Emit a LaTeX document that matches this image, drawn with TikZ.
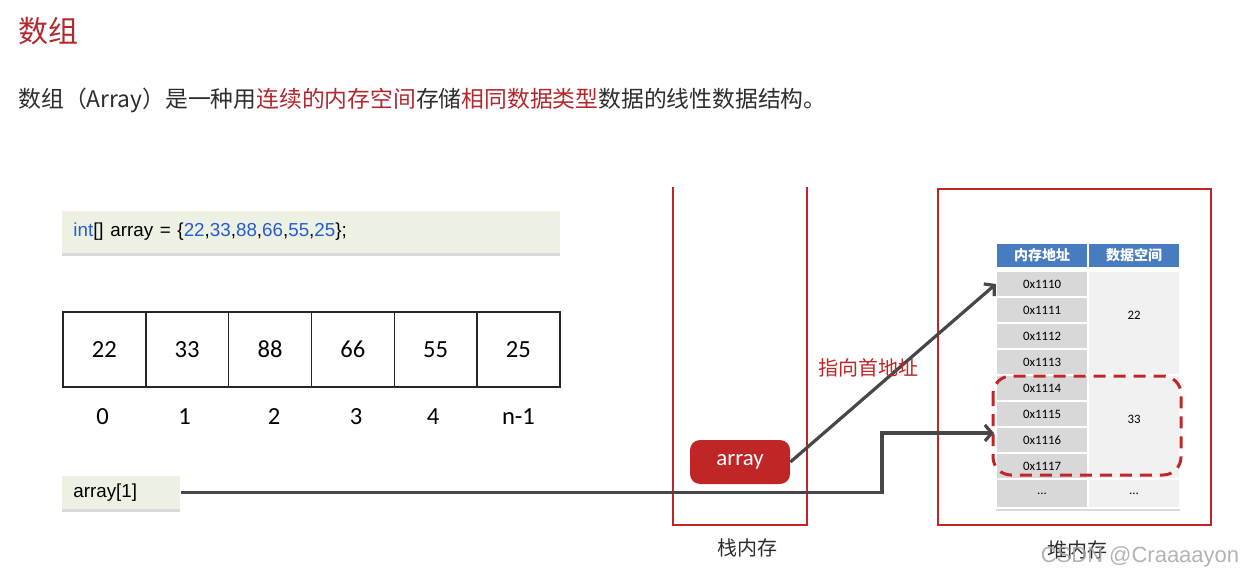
\documentclass[tikz,border=0pt]{standalone}
\usepackage{fontspec}
\setmainfont{Carlito}
\newfontfamily\cjk{Noto Sans CJK SC}
\newfontfamily\codefont{Liberation Sans}
\usepackage{tikz}
\usetikzlibrary{positioning,shadows,arrows.meta}
\definecolor{titlered}{RGB}{178,40,45}
\definecolor{memred}{RGB}{192,38,38}
\definecolor{codebg}{RGB}{236,241,228}
\definecolor{addrgray}{RGB}{216,216,216}
\definecolor{datgray}{RGB}{241,241,241}
\definecolor{hdrblue}{RGB}{72,124,192}
\definecolor{codeblue}{RGB}{38,92,205}
\definecolor{textdark}{RGB}{45,45,45}
\newcommand{\fsz}[1]{\fontsize{#1}{#1}\selectfont}

\begin{document}
\begin{tikzpicture}[x=0.5pt,y=-0.5pt,
	>={Straight Barb[length=3.5pt,width=8pt]},
	codebox/.style={fill=codebg,inner sep=0pt,align=left,
		drop shadow={shadow xshift=0pt,shadow yshift=-1.5pt,opacity=0.3}},
	cellbox/.style={draw=black!85,line width=0.7pt,minimum width=41.4pt,minimum height=37.5pt,inner sep=0pt,font=\fsz{12.3}},
	addr/.style={fill=addrgray,draw=white,line width=0.6pt,minimum width=45.5pt,minimum height=13pt,inner sep=0pt,font=\fsz{6.4}},
	dat/.style={fill=datgray,draw=white,line width=0.6pt,minimum width=46pt,inner sep=0pt},
	hdr/.style={fill=hdrblue,draw=white,line width=0.6pt,minimum width=45.5pt,minimum height=12.5pt,inner sep=0pt,text=white,font=\cjk\bfseries\fsz{7}},
	memline/.style={draw=memred,line width=1.3pt},
	conn/.style={draw=black!72,line width=1.6pt,->}]
	\useasboundingbox (0,0) rectangle (1242,577);
	% heading and sentence
	\node[anchor=west,text=titlered,inner sep=0pt] (title) at (18,31) {\cjk\fsz{15}数组};
	\node[anchor=west,text=textdark,inner sep=0pt] (intro) at (18,100) {\cjk\fsz{11.4}数组（Array）是一种用\textcolor{titlered}{连续的内存空间}存储\textcolor{titlered}{相同数据类型}数据的线性数据结构。};
	% code line
	\node[codebox,anchor=west,minimum width=249pt,minimum height=21pt,text width=238pt,inner xsep=5.5pt] (code) at (62,232)
		{\codefont\fsz{9.4}\textcolor{codeblue}{int}[] array = \{\textcolor{codeblue}{22},\textcolor{codeblue}{33},\textcolor{codeblue}{88},\textcolor{codeblue}{66},\textcolor{codeblue}{55},\textcolor{codeblue}{25}\};};
	% array cells and indices
	\foreach \v [count=\i] in {22,33,88,66,55,25}
		\node[cellbox] (c\i) at (21.6+82.8*\i,349.5) {\v};
	\foreach \t/\x [count=\i] in {0/102.5,1/184.5,2/274,3/356,4/433,n-1/518.5}
		\node[font=\fsz{12.3}] (i\i) at (\x,417) {\t};
	% array[1]
	\node[codebox,anchor=west,minimum width=59pt,minimum height=16.5pt,text width=48pt,inner xsep=5.5pt] (ref) at (62,492.5)
		{\codefont\fsz{9.4}array[1]};
	% stack
	\draw[memline] (673,187) -- (673,525) -- (807,525) -- (807,187);
	\node[fill=memred,rounded corners=5pt,minimum width=50pt,minimum height=22pt,text=white,font=\fsz{11.4}] (arr) at (740,462) {array};
	\node[font=\cjk\fsz{10},text=textdark] (stack) at (747,548) {栈内存};
	% heap
	\draw[memline] (938,189) rectangle (1211,525);
	\path[fill=white,drop shadow={shadow xshift=0pt,shadow yshift=-1.5pt,opacity=0.3}] (996,243) rectangle (1180,508);
	\node[hdr] (h1) at (1042,255.5) {内存地址};
	\node[hdr,minimum width=46pt] (h2) at (1134,255.5) {数据空间};
	\foreach \i in {0,...,7}
		\node[addr] (a\i) at (1042,284+26*\i) {0x111\i};
	\node[addr,minimum height=14.5pt] (a8) at (1042,493.5) {...};
	\node[dat,minimum height=52pt] (d1) at (1134,323) {};
	\node[dat,minimum height=52pt] (d2) at (1134,427) {};
	\node[dat,minimum height=14.5pt,font=\fsz{6.4}] (d3) at (1134,493.5) {...};
	\node[font=\fsz{6.4}] (v1) at (1134,315) {22};
	\node[font=\fsz{6.4}] (v2) at (1134,419) {33};
	\draw[draw=memred,line width=1.5pt,dash pattern=on 6pt off 4pt,rounded corners=9pt] (993,376) rectangle (1181,475);
	\node[font=\cjk\fsz{10},text=textdark] (heap) at (1077,550) {堆内存};
	\node[font=\codefont\fsz{11},text=black!35,opacity=0.85] (mark) at (1140,557) {CSDN @Craaaayon};
	% pointers
	\coordinate (bend) at (882,433);
	\coordinate (hit) at (994,433);
	\draw[conn] (arr.east) -- (a0.west);
	\draw[conn] (ref.east) -| (bend) -- (hit);
	\node[font=\cjk\fsz{10},text=memred] (note) at (868,368) {指向首地址};
\end{tikzpicture}
\end{document}
